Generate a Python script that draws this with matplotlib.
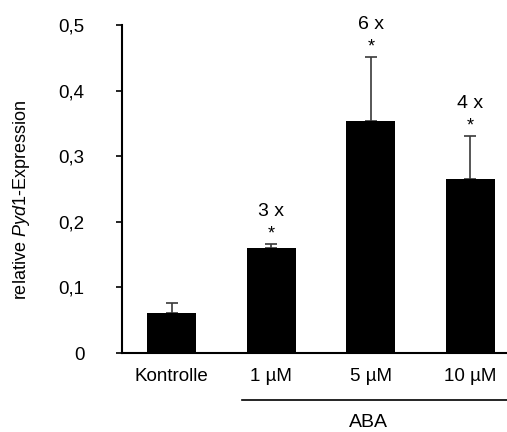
import matplotlib
matplotlib.use("Agg")
import matplotlib.pyplot as plt
from matplotlib.lines import Line2D
from matplotlib.transforms import blended_transform_factory

plt.rcParams['font.family'] = ['Liberation Sans', 'DejaVu Sans']
plt.rcParams['mathtext.fontset'] = 'custom'
plt.rcParams['mathtext.rm'] = 'Liberation Sans'
plt.rcParams['mathtext.it'] = 'Liberation Sans:italic'

categories = ["Kontrolle", "1 µM", "5 µM", "10 µM"]
values = [0.061, 0.160, 0.353, 0.266]
errors = [0.015, 0.006, 0.098, 0.065]
fold_labels = ["", "3 x", "6 x", "4 x"]
yticks = [0, 0.1, 0.2, 0.3, 0.4, 0.5]
ytick_labels = ["0", "0,1", "0,2", "0,3", "0,4", "0,5"]
group_label = "ABA"

W, H = 507, 432
fig = plt.figure(figsize=(W/100, H/100), dpi=100)
ax = fig.add_axes([122/W, 79/H, 398/W, 328/H])

x = list(range(len(categories)))
ax.bar(x, values, width=0.49, color='black', zorder=2)
ax.errorbar(x, values, yerr=[[0]*len(errors), errors], fmt='none',
            ecolor='#3a3a3a', elinewidth=1.2, capsize=4, capthick=1.2, zorder=1)

for xi, v, e, lab in zip(x, values, errors, fold_labels):
    if lab:
        top = v + e
        ax.text(xi, top + 0.0085, "*", ha='center', va='baseline', fontsize=13)
        ax.text(xi, top + 0.043, lab, ha='center', va='baseline', fontsize=14)

ax.set_xlim(-0.5, 3.5)
ax.set_ylim(0, 0.5)
ax.set_yticks(yticks)
ax.set_yticklabels(ytick_labels, fontsize=13.5)
ax.set_xticks(x)
ax.set_xticklabels(categories, fontsize=13.5)
ax.tick_params(axis='x', length=0, pad=10.5)
ax.tick_params(axis='y', length=4, width=1.2, pad=23)
ax.spines['top'].set_visible(False)
ax.spines['right'].set_visible(False)
ax.spines['left'].set_linewidth(1.5)
ax.spines['bottom'].set_linewidth(1.5)
ax.spines['left'].set_bounds(0, 0.5)

fig.text(22/W, 1 - 200/H, "relative $\\mathit{Pyd1}$-Expression", rotation=90,
         ha='center', va='center', fontsize=13)

# group line and label
trans = blended_transform_factory(ax.transData, fig.transFigure)
ax.add_line(Line2D([0.706, 3.6], [32/H, 32/H], transform=trans,
                   color='black', lw=1.2, clip_on=False))
fig.text(368/W, 1/H, group_label, ha='center', va='bottom', fontsize=14)

fig.savefig("out.png", dpi=100)
